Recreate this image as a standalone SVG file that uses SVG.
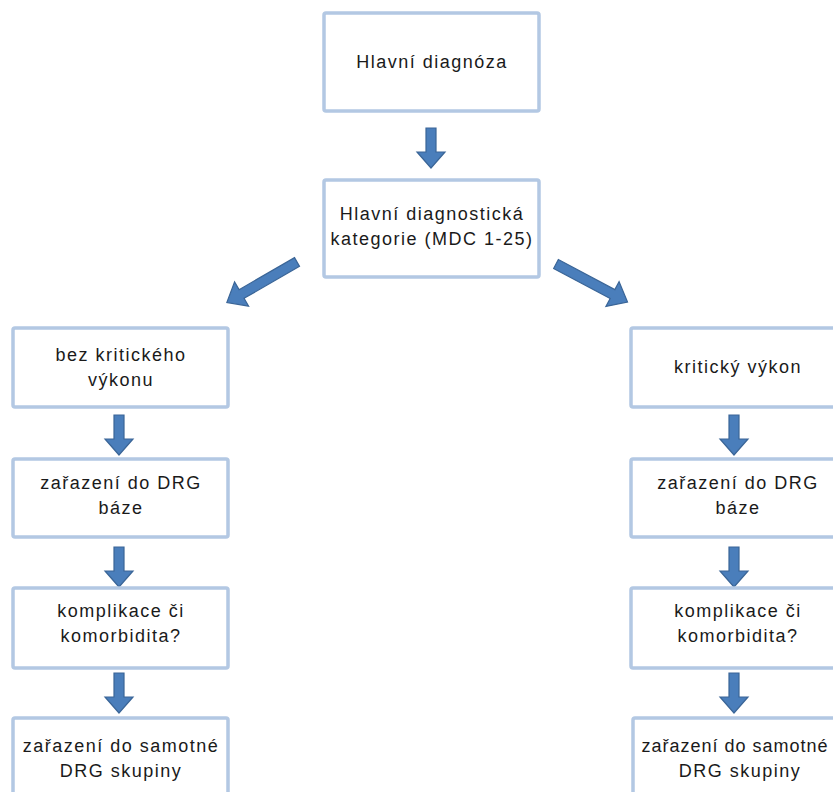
<svg xmlns="http://www.w3.org/2000/svg" width="833" height="792" viewBox="0 0 833 792">
<style>
.box{fill:#fff;stroke:#b3c8e3;stroke-width:3.5}
.t{font-family:"Liberation Sans",Arial,sans-serif;font-size:18px;letter-spacing:1.5px;fill:#1a1a1a;text-anchor:middle}
.arr{fill:#4a7ebb;stroke:#3a6597;stroke-width:1.2;stroke-linejoin:miter}
</style>
<defs>
<path id="va" d="M-5,0 H5 V24 H14 L0,40 L-14,24 H-5 Z"/>
<path id="da" d="M-5,0 H5 V64 H14 L0,81 L-14,64 H-5 Z"/>
</defs>
<rect width="833" height="792" fill="#fff"/>
<g id="connectors">
<use href="#va" class="arr" transform="translate(431,128)"/>
<use href="#da" class="arr" transform="translate(297,262) rotate(60)"/>
<use href="#da" class="arr" transform="translate(556,264) rotate(-62)"/>
<use href="#va" class="arr" transform="translate(119,415)"/>
<use href="#va" class="arr" transform="translate(119,547)"/>
<use href="#va" class="arr" transform="translate(119,673)"/>
<use href="#va" class="arr" transform="translate(734,415)"/>
<use href="#va" class="arr" transform="translate(734,547)"/>
<use href="#va" class="arr" transform="translate(734,673)"/>
</g>
<g id="n-hlavni">
<rect class="box" x="324" y="13" width="215" height="98" rx="2"/>
<text class="t" x="432" y="68">Hlavní diagnóza</text>
</g>
<g id="n-mdc">
<rect class="box" x="324" y="180" width="215" height="97" rx="2"/>
<text class="t" x="432" y="220">Hlavní diagnostická</text>
<text class="t" x="432" y="245">kategorie (MDC 1-25)</text>
</g>
<g id="n-bez">
<rect class="box" x="13" y="328" width="215" height="79" rx="2"/>
<text class="t" x="121" y="361">bez kritického</text>
<text class="t" x="121" y="386">výkonu</text>
</g>
<g id="n-l-baze">
<rect class="box" x="13" y="459" width="215" height="78" rx="2"/>
<text class="t" x="121" y="489">zařazení do DRG</text>
<text class="t" x="121" y="514">báze</text>
</g>
<g id="n-l-kompl">
<rect class="box" x="13" y="588" width="215" height="80" rx="2"/>
<text class="t" x="121" y="617">komplikace či</text>
<text class="t" x="121" y="642">komorbidita?</text>
</g>
<g id="n-l-skup">
<rect class="box" x="13" y="718" width="215" height="90" rx="2"/>
<text class="t" x="121" y="752">zařazení do samotné</text>
<text class="t" x="121" y="777">DRG skupiny</text>
</g>
<g id="n-krit">
<rect class="box" x="631" y="328" width="215" height="79" rx="2"/>
<text class="t" x="738" y="373">kritický výkon</text>
</g>
<g id="n-r-baze">
<rect class="box" x="631" y="459" width="215" height="78" rx="2"/>
<text class="t" x="738" y="489">zařazení do DRG</text>
<text class="t" x="738" y="514">báze</text>
</g>
<g id="n-r-kompl">
<rect class="box" x="631" y="588" width="215" height="80" rx="2"/>
<text class="t" x="738" y="617">komplikace či</text>
<text class="t" x="738" y="642">komorbidita?</text>
</g>
<g id="n-r-skup">
<rect class="box" x="633" y="718" width="215" height="90" rx="2"/>
<text class="t" x="735" y="752" style="letter-spacing:1px">zařazení do samotné</text>
<text class="t" x="740" y="777">DRG skupiny</text>
</g>
</svg>
